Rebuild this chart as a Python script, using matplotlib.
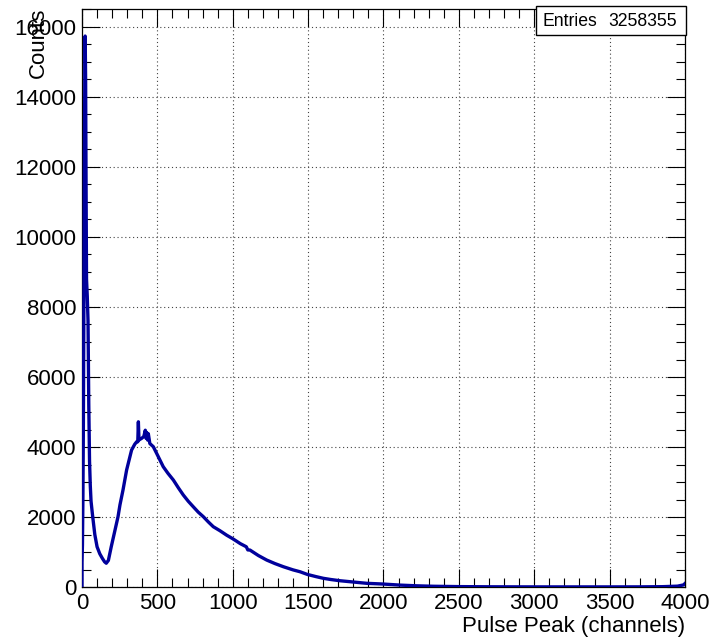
import matplotlib
matplotlib.use("Agg")
import matplotlib.pyplot as plt
from matplotlib.patches import Rectangle
from matplotlib.ticker import MultipleLocator

plt.rcParams['font.family'] = ['Liberation Sans', 'DejaVu Sans']

# pulse peak spectrum (channel, counts)
channels = [0, 0, 3, 6, 9, 12, 15, 18, 21, 24, 27, 30, 35, 40, 45, 50, 55, 60, 70, 85,
            100, 118, 135, 150, 161, 175, 194, 215, 239, 252, 272, 296, 329, 350,
            363, 370, 374, 378, 396, 410, 420, 425, 429, 435, 440, 450, 473, 495,
            539, 570, 606, 640, 672, 705, 738, 771, 805, 838, 871, 915, 960, 1000,
            1050, 1090, 1100, 1114, 1170, 1225, 1280, 1336, 1400, 1446, 1495, 1550,
            1601, 1650, 1711, 1800, 1889, 1995, 2110, 2220, 2330, 2500, 2700, 2900,
            3100, 3300, 3500, 3700, 3850, 3950, 3990, 4000]
counts = [0, 700, 1200, 2500, 4500, 7500, 11000, 14000, 15740, 14500, 11500, 8800, 8300,
          7600, 5200, 3600, 2900, 2450, 2050, 1500, 1150, 950, 820, 720, 680, 760,
          1150, 1550, 2009, 2350, 2771, 3343, 3914, 4080, 4151, 4150, 4720, 4200,
          4249, 4300, 4480, 4250, 4420, 4200, 4380, 4100, 4009, 3820, 3437, 3250,
          3057, 2830, 2629, 2450, 2294, 2140, 2009, 1860, 1723, 1609, 1480, 1380,
          1240, 1150, 1060, 1057, 900, 771, 670, 580, 490, 437, 360, 300, 249, 215,
          180, 143, 106, 86, 55, 35, 22, 12, 7, 5, 4, 4, 4, 5, 10, 25, 60, 100]

entries = 3258355
x_ticks = [0, 500, 1000, 1500, 2000, 2500, 3000, 3500, 4000]
y_ticks = [0, 2000, 4000, 6000, 8000, 10000, 12000, 14000, 16000]

fig = plt.figure(figsize=(7.13, 6.41), dpi=100)
ax = fig.add_axes([0.1150, 0.0842, 0.8457, 0.9018])

ax.plot(channels, counts, color='#00009c', lw=2.4, zorder=3)

ax.set_xlim(0, 4000)
ax.set_ylim(0, 16514)
ax.set_xticks(x_ticks)
ax.set_yticks(y_ticks)
ax.xaxis.set_minor_locator(MultipleLocator(100))
ax.yaxis.set_minor_locator(MultipleLocator(500))
ax.tick_params(which='both', direction='in', top=True, right=True, width=0.8,
               labelsize=16, pad=4)
ax.tick_params(which='major', length=13)
ax.tick_params(which='minor', length=6.5)
ax.grid(True, which='major', linestyle=(0, (1, 2.5)), color='#444444', lw=0.8)
for s in ax.spines.values():
    s.set_linewidth(0.9)

fig.text(0.9607, 1 - 616 / 641, 'Pulse Peak (channels)', ha='right', va='top',
         fontsize=16)
fig.text(0.054, 1 - 8 / 641, 'Counts', rotation=90, ha='center', va='top',
         fontsize=16)

# stats box
fig.patches.append(Rectangle((536 / 713, 1 - 35 / 641), 150 / 713, 29 / 641,
                             transform=fig.transFigure, facecolor='white',
                             edgecolor='black', lw=1, zorder=5))
fig.text(542 / 713, 1 - 21 / 641, 'Entries', ha='left', va='center',
         fontsize=12.7, zorder=6)
fig.text(677 / 713, 1 - 21 / 641, str(entries), ha='right', va='center',
         fontsize=12.7, zorder=6)

fig.savefig('out.png', dpi=100)
